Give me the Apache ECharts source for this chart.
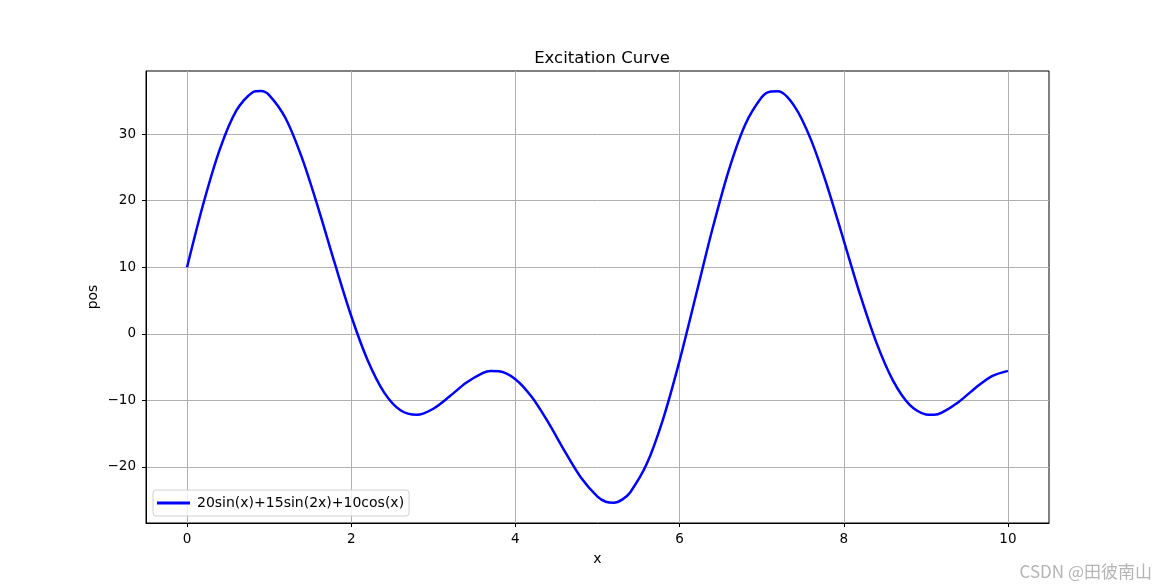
<!DOCTYPE html>
<html>
<head>
<meta charset="utf-8">
<script src="https://cdn.jsdelivr.net/npm/echarts@6/dist/echarts.min.js"></script>
<style>html,body{margin:0;padding:0;background:#fff}#c{width:1165px;height:588px}</style>
</head>
<body>
<div id="c"></div>
<script>
const xs = [0,0.2,0.4,0.6,0.8,0.9,1.0,1.2,1.4,1.6,1.8,2.0,2.2,2.4,2.6,2.8,3.0,3.2,3.4,3.6,3.7,3.8,4.0,4.2,4.4,4.6,4.8,5.0,5.1,5.2,5.3,5.4,5.6,5.8,6.0,6.2,6.4,6.6,6.8,7.0,7.1,7.2,7.4,7.6,7.8,8.0,8.2,8.4,8.6,8.8,9.0,9.1,9.2,9.4,9.6,9.8,10.0];
const pos = [10.0,19.62,27.76,33.53,36.31,36.49,35.87,32.40,26.43,18.82,10.57,2.67,-3.99,-8.81,-11.51,-12.19,-11.27,-9.40,-7.37,-5.91,-5.60,-5.63,-6.83,-9.52,-13.33,-17.65,-21.66,-24.50,-25.25,-25.40,-24.93,-23.82,-19.56,-12.78,-4.04,5.82,15.74,24.61,31.46,35.54,36.39,36.44,34.18,29.18,22.13,14.01,5.83,-1.41,-7.05,-10.65,-12.13,-12.17,-11.81,-10.25,-8.18,-6.40,-5.58];
const xTicks = [0,2,4,6,8,10];
const yTicks = [-20,-10,0,10,20,30];
const seriesName = '20sin(x)+15sin(2x)+10cos(x)';
const titleText = 'Excitation Curve';

const font = 'DejaVu Sans';
const fmt = v => String(v).replace('-', '\u2212');
const chart = echarts.init(document.getElementById('c'), null, {renderer: 'canvas'});
chart.setOption({
  animation: false,
  backgroundColor: '#fff',
  title: {
    text: titleText, left: 597, textAlign: 'center', top: 45,
    textStyle: {fontFamily: font, fontSize: 16.5, fontWeight: 'normal', color: '#000'}
  },
  grid: {left: 146, right: 116, top: 71, bottom: 65, show: true, borderColor: '#000', borderWidth: 1, containLabel: false},
  legend: {
    left: 153, top: 490, orient: 'vertical',
    backgroundColor: 'rgba(255,255,255,0.8)', borderColor: '#d0d0d0', borderWidth: 1, borderRadius: 3,
    padding: [6, 5, 6, 4], itemWidth: 33, itemHeight: 12, itemGap: 4,
    textStyle: {fontFamily: font, fontSize: 14, color: '#000', padding: [0, 0, 0, 2]},
    data: [{name: seriesName, icon: 'path://M0,0 L30,0 L30,2.6 L0,2.6 Z'}]
  },
  xAxis: {
    type: 'value', min: -0.5, max: 10.5,
    name: 'x', nameLocation: 'middle', nameGap: 29,
    nameTextStyle: {fontFamily: font, fontSize: 14, color: '#000'},
    axisLine: {show: true, onZero: false, lineStyle: {color: '#000', width: 1}},
    axisTick: {show: true, inside: false, length: 4, customValues: xTicks, lineStyle: {color: '#000'}},
    axisLabel: {customValues: xTicks, fontFamily: font, fontSize: 13.5, color: '#000', margin: 9, formatter: fmt},
    splitLine: {show: true, lineStyle: {color: '#b0b0b0', width: 1}}
  },
  yAxis: {
    type: 'value', min: -28.45, max: 39.5,
    name: 'pos', nameLocation: 'middle', nameGap: 46, nameRotate: 90, nameMoveOverlap: false,
    nameTextStyle: {fontFamily: font, fontSize: 14, color: '#000'},
    axisLine: {show: true, onZero: false, lineStyle: {color: '#000', width: 1}},
    axisTick: {show: true, inside: false, length: 4, customValues: yTicks, lineStyle: {color: '#000'}},
    axisLabel: {customValues: yTicks, fontFamily: font, fontSize: 13.5, color: '#000', margin: 10, formatter: fmt},
    splitLine: {show: true, lineStyle: {color: '#b0b0b0', width: 1}}
  },
  series: [{
    name: seriesName, type: 'line', smooth: 0.3, symbol: 'none',
    data: xs.map((x, i) => [x, pos[i]]),
    lineStyle: {color: '#0000ff', width: 2.5},
    itemStyle: {color: '#0000ff'}
  }],
  graphic: [{
    type: 'text', right: 13, bottom: 8,
    style: {text: 'CSDN @田彼南山', fill: '#b4b4b4', font: '17px "Noto Sans CJK SC", sans-serif'}
  }]
});
</script>
</body>
</html>
